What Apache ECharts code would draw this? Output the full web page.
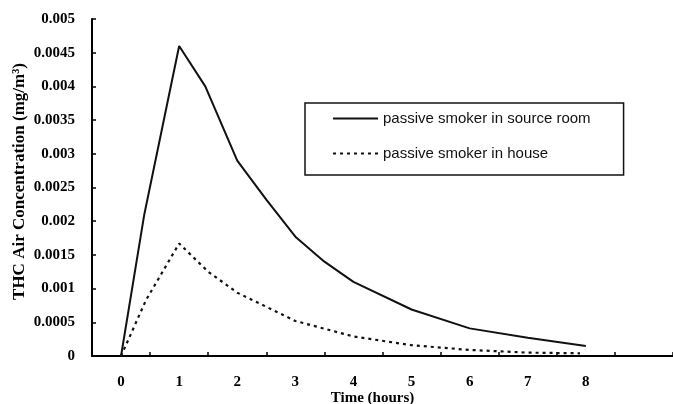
<!DOCTYPE html>
<html><head><meta charset="utf-8">
<script src="https://cdn.jsdelivr.net/npm/echarts@6/dist/echarts.min.js"></script>
<style>html,body{margin:0;padding:0;background:#fff}#c{width:673px;height:404px}</style>
</head><body><div id="c"></div>
<script>
const sourceTimes = [0, 0.4, 1, 1.45, 2, 2.5, 3, 3.5, 4, 5, 6, 7, 8];
const sourceValues = [0, 0.0021, 0.0046, 0.004, 0.0029, 0.00232, 0.00177, 0.0014, 0.0011, 0.00069, 0.00041, 0.00027, 0.00015];
const houseTimes = [0, 0.43, 1, 1.5, 2, 3, 4, 5, 6, 7, 7.9];
const houseValues = [0, 0.00083, 0.00167, 0.00125, 0.00094, 0.00052, 0.00029, 0.00016, 0.00009, 0.00005, 0.00004];
const xTickLabels = ['0', '1', '2', '3', '4', '5', '6', '7', '8'];
const seriesNames = ['passive smoker in source room', 'passive smoker in house'];
const xAxisTitle = 'Time (hours)';
const yAxisTitle = 'THC Air Concentration (mg/m³)';

const serif = '"Liberation Serif", "Times New Roman", serif';
const chart = echarts.init(document.getElementById('c'), null, {renderer: 'canvas'});
const pairs = (ts, vs) => ts.map((t, i) => [t, vs[i]]);

chart.setOption({
  animation: false,
  backgroundColor: '#fff',
  grid: {left: 92, right: 0, top: 19, bottom: 48, containLabel: false, outerBoundsMode: 'none'},
  legend: {
    orient: 'vertical',
    left: 305, top: 103,
    padding: [8, 33, 14, 27],
    itemGap: 20,
    itemWidth: 45, itemHeight: 14,
    borderColor: '#111', borderWidth: 1.5,
    itemStyle: {opacity: 0},
    textStyle: {fontFamily: '"Liberation Sans", Arial, sans-serif', fontSize: 15, color: '#111'},
    data: seriesNames
  },
  xAxis: [{
    type: 'value', min: -0.5, max: 9.5, interval: 0.5,
    name: xAxisTitle, nameLocation: 'middle', nameGap: 35, nameMoveOverlap: false,
    nameTextStyle: {fontFamily: serif, fontWeight: 'bold', fontSize: 15, color: '#000', padding: [0, 20, 0, 0]},
    axisLine: {onZero: false, lineStyle: {color: '#000', width: 2}},
    axisTick: {show: false},
    splitLine: {show: false},
    axisLabel: {
      margin: 19, fontFamily: serif, fontWeight: 'bold', fontSize: 15, color: '#000',
      showMinLabel: true, showMaxLabel: true,
      formatter: v => {
        const r = Math.round(v);
        if (Math.abs(v - r) > 1e-6 || r < 0 || r >= xTickLabels.length) return '';
        return xTickLabels[r];
      }
    }
  }, {
    type: 'value', min: -0.5, max: 9.5, interval: 1, position: 'bottom',
    axisLine: {show: false, onZero: false},
    axisTick: {show: true, inside: true, length: 4, lineStyle: {color: '#000', width: 1.5}},
    axisLabel: {show: false},
    splitLine: {show: false}
  }],
  yAxis: {
    type: 'value', min: 0, max: 0.005, interval: 0.0005,
    name: yAxisTitle, nameLocation: 'middle', nameGap: 64, nameRotate: 90, nameMoveOverlap: false,
    nameTextStyle: {fontFamily: serif, fontWeight: 'bold', fontSize: 17, color: '#000', padding: [0, 0, 0, 12]},
    axisLine: {show: true, onZero: false, lineStyle: {color: '#000', width: 2}},
    axisTick: {show: true, inside: true, length: 4, lineStyle: {color: '#000', width: 1.5}},
    splitLine: {show: false},
    axisLabel: {
      margin: 17, fontFamily: serif, fontWeight: 'bold', fontSize: 15, color: '#000',
      formatter: v => v === 0 ? '0' : String(parseFloat(v.toFixed(4)))
    }
  },
  series: [{
    name: seriesNames[0], type: 'line', xAxisIndex: 0,
    data: pairs(sourceTimes, sourceValues),
    symbol: 'none', smooth: false,
    lineStyle: {color: '#111', width: 2, type: 'solid'},
    itemStyle: {color: '#111'}
  }, {
    name: seriesNames[1], type: 'line', xAxisIndex: 0,
    data: pairs(houseTimes, houseValues),
    symbol: 'none', smooth: false,
    lineStyle: {color: '#111', width: 2.2, type: [3, 4]},
    itemStyle: {color: '#111'}
  }]
});
</script>
</body></html>
